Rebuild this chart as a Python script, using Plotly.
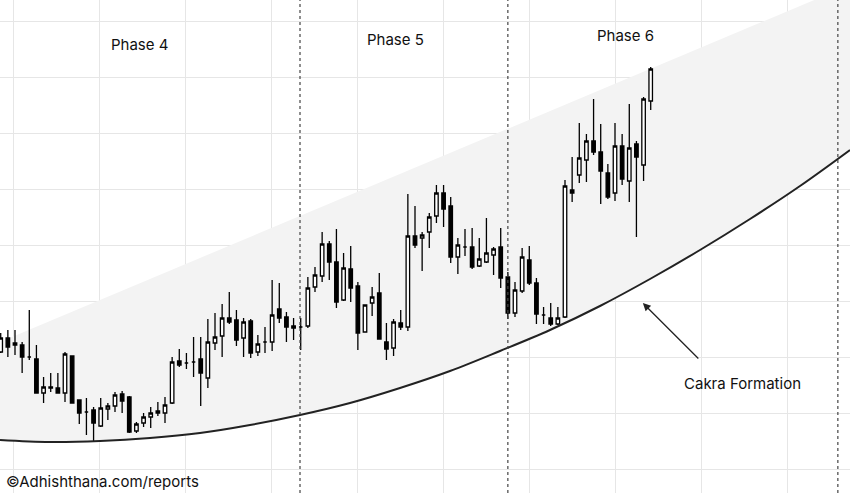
import plotly.graph_objects as go

# candle data (price units, arbitrary scale)
opens = [148, 162, 157, 155, 143, 141, 107, 113, 112, 107, 144, 100, 88, 90, 74, 91, 94, 106, 103, 69,
         77, 83, 89, 87, 97, 139, 137, 138, 141, 122, 157, 164, 182, 180, 162, 179, 148, 158, 158, 191,
         183, 174, 173, 174, 213, 224, 256, 238, 200, 231, 214, 168, 197, 207, 158, 152, 177, 173, 264, 262,
         268, 284, 307, 294, 243, 253, 253, 234, 238, 245, 253, 223, 187, 209, 240, 217, 185, 182, 176, 183,
         310, 325, 340, 359, 348, 327, 307, 354, 319, 356, 335, 399]
highs = [167, 170, 170, 158, 190, 155, 123, 127, 127, 148, 144, 100, 102, 93, 102, 97, 108, 109, 104, 78,
         87, 93, 98, 103, 143, 151, 147, 163, 163, 181, 187, 196, 208, 190, 182, 181, 165, 173, 220, 217,
         188, 182, 182, 223, 233, 268, 259, 271, 247, 254, 218, 195, 213, 227, 177, 181, 190, 306, 294, 268,
         287, 315, 315, 303, 262, 271, 272, 262, 282, 253, 272, 228, 218, 252, 254, 222, 193, 197, 193, 320,
         343, 377, 366, 401, 376, 336, 377, 366, 396, 359, 403, 433]
lows = [147, 143, 145, 127, 140, 107, 97, 108, 107, 98, 97, 76, 65, 58, 73, 80, 88, 87, 67, 67,
        73, 72, 84, 77, 96, 133, 131, 123, 94, 112, 150, 143, 176, 154, 143, 142, 144, 147, 149, 177,
        158, 160, 150, 172, 208, 218, 220, 192, 199, 198, 150, 168, 184, 161, 140, 144, 170, 169, 252, 229,
        252, 277, 273, 237, 226, 244, 231, 233, 237, 225, 212, 181, 183, 207, 215, 176, 176, 174, 175, 182,
        298, 317, 318, 345, 296, 301, 299, 315, 298, 263, 319, 390]
closes = [162, 153, 155, 143, 143, 107, 113, 112, 107, 146, 97, 87, 88, 77, 92, 94, 105, 99, 68, 76,
          83, 87, 87, 95, 138, 135, 137, 138, 127, 158, 163, 182, 178, 160, 178, 147, 156, 158, 185, 182,
          173, 172, 173, 212, 225, 256, 238, 198, 232, 212, 167, 195, 203, 161, 151, 178, 173, 264, 255, 265,
          283, 307, 291, 243, 255, 253, 233, 241, 247, 251, 222, 187, 210, 243, 217, 186, 185, 176, 182, 314,
          307, 342, 359, 348, 329, 303, 354, 321, 352, 343, 401, 431]
days = list(range(len(opens)))

# hand-traced Cakra curve and upper channel line
curve_x = [-0.1, 6.9, 13.9, 20.9, 27.9, 34.9, 41.9, 48.9, 55.9, 62.9, 69.9, 76.9, 83.9, 90.9,
           97.9, 104.9, 111.9, 118.9]
curve_y = [60, 58, 59, 62, 67, 75, 85, 97, 112, 129, 149, 170, 194, 221, 250, 281, 314, 350]
upper_x = [-0.1, 118.9]
upper_y = [158, 515]

phase_lines = [41.9, 71.0, 117.2]
phase_labels = [("Phase 4", 19.4, 456), ("Phase 5", 55.3, 461), ("Phase 6", 87.5, 465)]

fig = go.Figure()

# shaded channel, kept under the candles
pts = list(zip(upper_x, upper_y)) + list(zip(curve_x, curve_y))[::-1]
path = "M " + " L ".join(f"{x},{y}" for x, y in pts) + " Z"
fig.add_shape(type="path", path=path, xref="x", yref="y", fillcolor="#f3f3f3",
              line=dict(width=0), layer="between")

fig.add_trace(go.Candlestick(
    x=days, open=opens, high=highs, low=lows, close=closes,
    increasing=dict(line=dict(color="black", width=1.3), fillcolor="white"),
    decreasing=dict(line=dict(color="black", width=1.3), fillcolor="black"),
    whiskerwidth=0,
))

fig.add_trace(go.Scatter(x=curve_x, y=curve_y, mode="lines",
                         line=dict(color="#222", width=2, shape="spline"), hoverinfo="skip"))

for xv in phase_lines:
    fig.add_shape(type="line", x0=xv, x1=xv, y0=0, y1=1, xref="x", yref="paper",
                  line=dict(color="#444", width=1.2, dash="dot"))

for txt, xv, yv in phase_labels:
    fig.add_annotation(x=xv, y=yv, text=txt, showarrow=False, font=dict(size=15, color="#111"))

fig.add_annotation(x=89.9, y=197, ax=57, ay=57, text="", showarrow=True, arrowhead=2,
                   arrowsize=1.2, arrowwidth=1.3, arrowcolor="#222")
fig.add_annotation(x=103.9, y=117, text="Cakra Formation", showarrow=False, font=dict(size=15, color="#111"))
fig.add_annotation(x=0.005, y=0.0, xref="paper", yref="paper", xanchor="left", yanchor="bottom",
                   text="©Adhishthana.com/reports", showarrow=False, font=dict(size=15, color="#111"))

fig.update_layout(
    width=850, height=493,
    margin=dict(l=0, r=0, t=0, b=0),
    plot_bgcolor="white", paper_bgcolor="white",
    showlegend=False,
    font=dict(family="Inter"),
    xaxis=dict(range=[-0.1, 118.9], showticklabels=False, rangeslider=dict(visible=False),
               tick0=1.72, dtick=12.04, gridcolor="#e6e6e6", zeroline=False),
    yaxis=dict(range=[7, 500], showticklabels=False, tick0=31, dtick=56, gridcolor="#e6e6e6", zeroline=False),
)

fig.write_html("out.html", config={"displayModeBar": False},
               post_script="document.body.style.margin='0';document.body.style.overflow='hidden';")
